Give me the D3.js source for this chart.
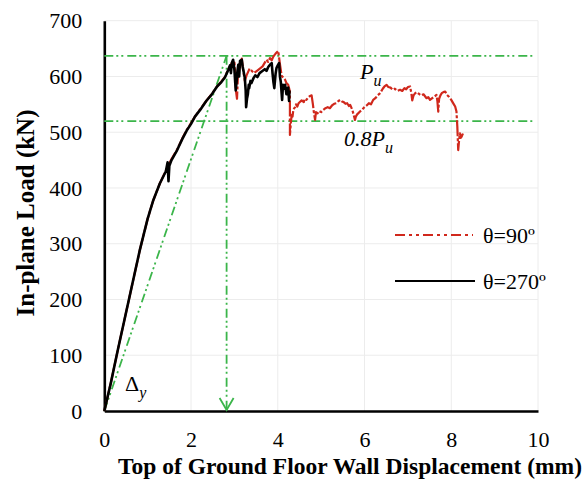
<!DOCTYPE html>
<html>
<head>
<meta charset="utf-8">
<script src="https://cdn.jsdelivr.net/npm/d3@7"></script>
<style>
  html, body { margin: 0; padding: 0; background: #fff; }
  svg { display: block; }
  svg text { font-family: "Liberation Serif", "Times New Roman", serif; }
</style>
</head>
<body>
<svg id="chart" width="586" height="492"></svg>
<script>
// Load–displacement response of the ground floor wall
const xTicks = [0, 2, 4, 6, 8, 10];
const yTicks = [0, 100, 200, 300, 400, 500, 600, 700];

// θ = 270° test (displacement mm, load kN)
const theta270 = [
  [0,0],[0.15,50],[0.31,109],[0.48,169],[0.65,229],[0.82,289],[1.0,345],[1.13,378],
  [1.28,408],[1.42,430],[1.46,446],[1.48,412],[1.5,440],[1.55,450],[1.68,468],[1.8,488],
  [1.9,503],[2.0,515],[2.09,528],[2.21,540],[2.35,556],[2.48,568],[2.6,582],[2.7,590],
  [2.78,598],[2.86,612],[2.9,620],[2.92,606],[2.94,624],[2.97,630],[3.0,612],[3.03,575],
  [3.05,590],[3.07,610],[3.09,621],[3.11,600],[3.13,628],[3.17,630],[3.19,618],[3.21,610],
  [3.24,597],[3.26,575],[3.27,545],[3.29,560],[3.31,568],[3.33,585],[3.34,579],[3.37,592],
  [3.39,588],[3.44,597],[3.48,602],[3.53,599],[3.58,606],[3.63,609],[3.7,613],[3.74,610],
  [3.78,617],[3.82,621],[3.86,624],[3.88,605],[3.9,590],[3.92,579],[3.95,605],[3.97,615],
  [4.0,620],[4.03,624],[4.05,600],[4.07,590],[4.1,558],[4.12,585],[4.15,578],[4.17,585],
  [4.2,568],[4.22,578],[4.24,580],[4.26,556],[4.27,575]
];

// θ = 90° test (displacement mm, load kN)
const theta90 = [
  [0,0],[0.15,50],[0.31,109],[0.48,169],[0.65,229],[0.82,289],[1.0,345],[1.13,378],
  [1.28,408],[1.45,436],[1.55,452],[1.68,469],[1.8,489],[1.9,504],[2.09,528],[2.21,541],
  [2.35,556],[2.48,569],[2.6,582],[2.7,591],[2.78,599],[2.86,613],[2.94,624],[2.97,618],
  [3.0,628],[3.02,600],[3.04,572],[3.06,560],[3.08,600],[3.12,622],[3.17,632],[3.2,612],
  [3.24,592],[3.28,602],[3.35,614],[3.45,606],[3.55,612],[3.65,618],[3.74,630],[3.78,626],
  [3.82,633],[3.86,629],[3.9,636],[3.95,641],[4.01,646],[4.05,622],[4.09,601],[4.13,598],
  [4.17,594],[4.2,588],[4.24,585],[4.28,573],[4.28,495],[4.3,515],[4.32,531],[4.34,528],
  [4.36,541],[4.4,545],[4.42,550],[4.45,546],[4.48,552],[4.52,555],[4.55,557],[4.6,554],
  [4.62,560],[4.66,558],[4.7,562],[4.74,565],[4.78,566],[4.81,550],[4.83,537],[4.86,522],
  [4.88,536],[4.92,534],[4.95,538],[5.0,536],[5.05,540],[5.1,543],[5.15,545],[5.2,543],
  [5.25,548],[5.3,551],[5.35,552],[5.4,556],[5.44,558],[5.48,555],[5.52,554],[5.56,551],
  [5.6,552],[5.64,547],[5.67,549],[5.72,540],[5.78,522],[5.8,528],[5.83,532],[5.88,536],
  [5.94,540],[6.0,545],[6.05,548],[6.1,552],[6.15,550],[6.2,558],[6.25,561],[6.3,566],
  [6.36,570],[6.42,578],[6.46,582],[6.51,585],[6.55,581],[6.6,580],[6.65,576],[6.7,578],
  [6.76,574],[6.82,576],[6.87,574],[6.92,579],[6.96,577],[7.0,581],[7.05,582],[7.08,570],
  [7.1,557],[7.13,566],[7.17,570],[7.2,572],[7.25,569],[7.3,566],[7.36,568],[7.43,561],
  [7.47,563],[7.51,558],[7.56,561],[7.6,563],[7.66,567],[7.68,556],[7.7,537],[7.72,560],
  [7.75,566],[7.78,570],[7.82,572],[7.86,573],[7.9,567],[7.94,564],[7.97,561],[8.0,558],
  [8.03,554],[8.06,550],[8.09,546],[8.12,537],[8.14,510],[8.16,468],[8.18,485],[8.2,498],
  [8.22,490],[8.24,492],[8.26,496],[8.28,495]
];

// Reference levels derived from the curves
const peakLoad = [637];        // P_u
const residualLoad = [520];    // 0.8 P_u
const yieldDisp = [2.82];      // Δ_y
const levelEnd = [9.9];

const serif = '"Liberation Serif", "Times New Roman", serif';
const svg = d3.select("#chart");
const x = d3.scaleLinear().domain([0, 10]).range([104.3, 538]);
const y = d3.scaleLinear().domain([0, 700]).range([411, 20.7]);

const green = "#3bb54a";
const red = "#d0281c";

// light grid
const grid = svg.append("g");
grid.selectAll("line.gx").data(xTicks.filter(d => d > 0)).join("line")
  .attr("x1", d => x(d)).attr("x2", d => x(d))
  .attr("y1", y(0)).attr("y2", y(700))
  .attr("stroke", "#ececec").attr("stroke-width", 1);
grid.selectAll("line.gy").data(yTicks.filter(d => d > 0)).join("line")
  .attr("x1", x(0)).attr("x2", x(10))
  .attr("y1", d => y(d)).attr("y2", d => y(d))
  .attr("stroke", "#ececec").attr("stroke-width", 1);

// axes
const xAxis = svg.append("g").attr("transform", `translate(0,${y(0)})`)
  .call(d3.axisBottom(x).tickValues(xTicks).tickSize(0).tickPadding(20));
const yAxis = svg.append("g").attr("transform", `translate(${x(0)},0)`)
  .call(d3.axisLeft(y).tickValues(yTicks).tickSize(0).tickPadding(22));
[xAxis, yAxis].forEach(a => {
  a.attr("font-family", serif).attr("font-size", 22);
  a.select(".domain").attr("stroke", "#000").attr("stroke-width", 2.6);
  a.selectAll("text").style("font-family", serif).attr("fill", "#000");
});

// green construction lines
const dashGreen = "9,3,2,3,2,4";
svg.selectAll("line.level").data([peakLoad[0], residualLoad[0]]).join("line")
  .attr("x1", x(0)).attr("x2", x(levelEnd[0]))
  .attr("y1", d => y(d)).attr("y2", d => y(d))
  .attr("stroke", green).attr("stroke-width", 1.8).attr("stroke-dasharray", dashGreen);
svg.append("line")
  .attr("x1", x(0)).attr("y1", y(0))
  .attr("x2", x(yieldDisp[0])).attr("y2", y(peakLoad[0]))
  .attr("stroke", green).attr("stroke-width", 1.8).attr("stroke-dasharray", dashGreen);
svg.append("line")
  .attr("x1", x(yieldDisp[0])).attr("y1", y(peakLoad[0]))
  .attr("x2", x(yieldDisp[0])).attr("y2", y(0) - 1)
  .attr("stroke", green).attr("stroke-width", 1.8).attr("stroke-dasharray", dashGreen);
svg.append("path")
  .attr("d", `M${x(yieldDisp[0]) - 7},${y(0) - 13} L${x(yieldDisp[0])},${y(0) - 1} L${x(yieldDisp[0]) + 7},${y(0) - 13}`)
  .attr("fill", "none").attr("stroke", green).attr("stroke-width", 1.8);

// curves
const line = d3.line().x(d => x(d[0])).y(d => y(d[1]));
svg.append("path").datum(theta90).attr("d", line)
  .attr("fill", "none").attr("stroke", red).attr("stroke-width", 2.2)
  .attr("stroke-dasharray", "16,2,3,2").attr("stroke-linejoin", "round");
svg.append("path").datum(theta270).attr("d", line)
  .attr("fill", "none").attr("stroke", "#000").attr("stroke-width", 2.6)
  .attr("stroke-linejoin", "round");

// annotations
function subLabel(px, py, main, sub, italicMain) {
  const t = svg.append("text").attr("x", px).attr("y", py)
    .style("font-family", serif).attr("font-size", 22).attr("fill", "#000");
  t.append("tspan").attr("font-style", italicMain ? "italic" : "normal").text(main);
  t.append("tspan").attr("font-style", "italic").attr("font-size", 16).attr("dy", 7).text(sub);
}
subLabel(360, 79, "P", "u", true);
subLabel(344, 146, "0.8P", "u", true);
subLabel(125, 391, "Δ", "y", false);

// legend
const legend = svg.append("g").style("font-family", serif);
legend.append("line").attr("x1", 395).attr("x2", 473).attr("y1", 235).attr("y2", 235)
  .attr("stroke", red).attr("stroke-width", 2).attr("stroke-dasharray", "10,4,3,4,3,4");
legend.append("text").attr("x", 483).attr("y", 243).attr("font-size", 22).text("θ=90º");
legend.append("line").attr("x1", 395).attr("x2", 475).attr("y1", 281).attr("y2", 281)
  .attr("stroke", "#000").attr("stroke-width", 2);
legend.append("text").attr("x", 483).attr("y", 289).attr("font-size", 22).text("θ=270º");

// axis titles
svg.append("text").attr("x", 350).attr("y", 474).attr("text-anchor", "middle")
  .style("font-family", serif).attr("font-size", 23.5).attr("font-weight", "bold")
  .text("Top of Ground Floor Wall Displacement (mm)");
svg.append("text").attr("transform", "translate(34,213) rotate(-90)").attr("text-anchor", "middle")
  .style("font-family", serif).attr("font-size", 25).attr("font-weight", "bold")
  .text("In-plane Load (kN)");
</script>
</body>
</html>
